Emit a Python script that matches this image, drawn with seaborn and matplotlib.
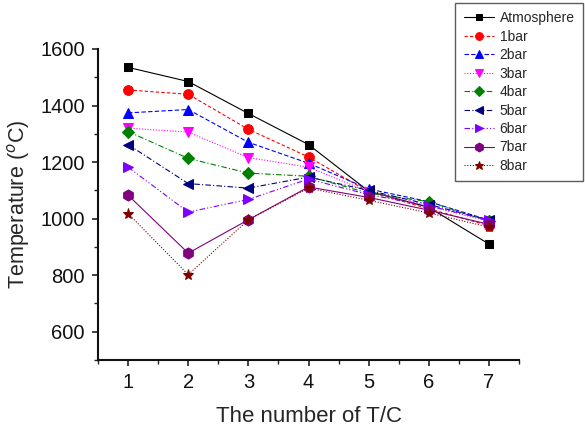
import matplotlib
matplotlib.use("Agg")
import matplotlib.pyplot as plt
import seaborn as sns
import pandas as pd

x_vals = [1, 2, 3, 4, 5, 6, 7]
series_names = ["Atmosphere", "1bar", "2bar", "3bar", "4bar", "5bar", "6bar", "7bar", "8bar"]
atmosphere = [1535, 1485, 1372, 1262, 1097, 1040, 910]
bar1 = [1455, 1440, 1316, 1218, 1095, 1035, 975]
bar2 = [1374, 1386, 1270, 1196, 1105, 1060, 995]
bar3 = [1320, 1306, 1216, 1182, 1095, 1045, 990]
bar4 = [1308, 1213, 1161, 1150, 1090, 1060, 990]
bar5 = [1262, 1124, 1108, 1147, 1100, 1050, 995]
bar6 = [1182, 1023, 1068, 1140, 1085, 1045, 995]
bar7 = [1083, 878, 996, 1112, 1075, 1030, 980]
bar8 = [1018, 802, 996, 1108, 1065, 1020, 970]
all_series = [atmosphere, bar1, bar2, bar3, bar4, bar5, bar6, bar7, bar8]

colors = ["#000000", "#FF0000", "#0000FF", "#FF00FF", "#008000", "#000080", "#8000FF", "#800080", "#800000"]
markers = ["s", "o", "^", "v", "D", "<", ">", "h", "*"]
msizes = [6, 7, 7, 7, 6, 7, 7, 8, 8]
lstyles = ["-", (0, (3, 2)), (0, (4, 2)), (0, (1, 1.5)), (0, (5, 2, 1, 2)),
           (0, (5, 2, 1, 2)), (0, (5, 2, 1, 2, 1, 2)), "-", (0, (1, 1.5))]

sns.set_theme(style="ticks")
plt.rcParams['font.family'] = ['Liberation Sans', 'DejaVu Sans']

fig = plt.figure(figsize=(5.85, 4.30), dpi=100)
ax = fig.add_axes([98/585, 1-360/430, (519-98)/585, (360-49)/430])

for name, vals, c, m, ms, ls in zip(series_names, all_series, colors, markers, msizes, lstyles):
    df = pd.DataFrame({"x": x_vals, "y": vals})
    sns.lineplot(data=df, x="x", y="y", ax=ax, color=c, marker=m, markersize=ms,
                 markeredgecolor=c, linestyle=ls, linewidth=0.8, label=name)

ax.set_xlim(0.5, 7.5)
ax.set_ylim(500, 1600)
ax.set_xticks(x_vals)
ax.set_yticks([600, 800, 1000, 1200, 1400, 1600])
ax.set_xticks([0.5, 1.5, 2.5, 3.5, 4.5, 5.5, 6.5, 7.5], minor=True)
ax.set_yticks([500, 700, 900, 1100, 1300, 1500], minor=True)
ax.tick_params(axis='both', which='major', labelsize=14.5, length=4.5, width=1.2, direction='out', colors='#222222', pad=5)
ax.tick_params(axis='both', which='minor', length=3, width=1.0, direction='out', colors='#222222')
for lab in ax.get_xticklabels() + ax.get_yticklabels():
    lab.set_color('#111111')
sns.despine(ax=ax)
for sp in ["left", "bottom"]:
    ax.spines[sp].set_linewidth(1.5)
    ax.spines[sp].set_color('#111111')

ax.set_xlabel("The number of T/C", fontsize=16, labelpad=10)
ax.set_ylabel("Temperature ($^{o}$C)", fontsize=15.5, labelpad=6)

handles, labels = ax.get_legend_handles_labels()
ax.get_legend().remove()
leg = fig.legend(handles, labels, loc="upper right", bbox_to_anchor=(583/585, 1-3/430),
                 borderaxespad=0, fontsize=10, frameon=True, fancybox=False, edgecolor='#333333',
                 handlelength=2.2, labelspacing=0.32, borderpad=0.6, handletextpad=0.4,
                 markerscale=0.8)
leg.get_frame().set_linewidth(1.0)

fig.savefig("out.png", dpi=100)
